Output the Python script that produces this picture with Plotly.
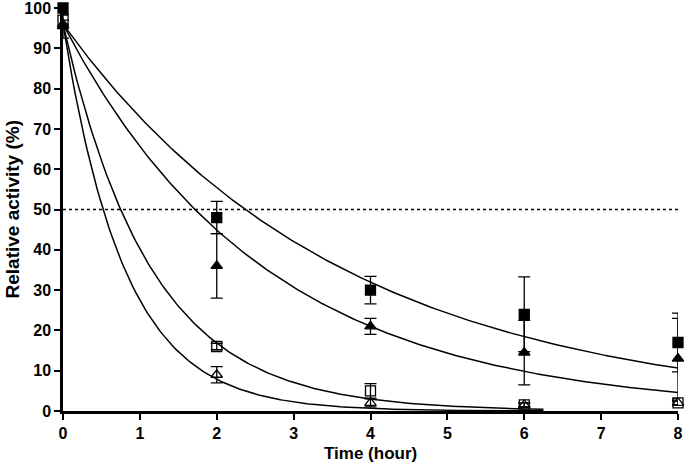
import numpy as np
import plotly.graph_objects as go

time_h = [0, 2, 4, 6, 8]

fsq_y = [100, 48, 30, 24, 17]
fsq_err = [1.5, 4, 3.4, 9.3, 7.3]
ftr_y = [95.5, 36, 21, 14.5, 13]
ftr_err = [3, 8, 2, 8, 10]
osq_y = [97, 16, 5, 1.5, 2]
osq_err = [0, 0.8, 1.8, 0.5, 0.5]
otr_y = [96, 9, 2, 1.5, 2]
otr_err = [0, 2, 1, 0.5, 0.5]

# one-phase decay fit parameters (Y0, k per hour, end of fitted line)
fit_y0 = [96, 96, 96, 96]
fit_k = [0.275, 0.38, 0.87, 1.25]
fit_end = [8, 8, 6.25, 6.25]

x_title = "Time (hour)"
y_title = "Relative activity (%)"

fig = go.Figure()

# dotted 50% line
fig.add_trace(go.Scatter(x=[0, 8], y=[50, 50], mode="lines",
                         line=dict(color="black", width=1.5, dash="dot"),
                         showlegend=False, hoverinfo="skip"))

for y0, k, xe in zip(fit_y0, fit_k, fit_end):
    xs = np.linspace(0, xe, 200)
    fig.add_trace(go.Scatter(x=xs, y=y0 * np.exp(-k * xs), mode="lines",
                             line=dict(color="black", width=1.5),
                             showlegend=False, hoverinfo="skip", cliponaxis=False))

series = [
    (fsq_y, fsq_err, "square"),
    (ftr_y, ftr_err, "triangle-up"),
    (osq_y, osq_err, "square-open"),
    (otr_y, otr_err, "triangle-up-open"),
]
for ys, es, sym in series:
    fig.add_trace(go.Scatter(
        x=time_h, y=ys, mode="markers",
        marker=dict(symbol=sym, size=10, color="black",
                    line=dict(color="black", width=1.3)),
        error_y=dict(type="data", array=es, visible=True, color="black",
                     thickness=1.3, width=6),
        showlegend=False, cliponaxis=False))

font_family = "Liberation Sans, Arial, sans-serif"
axis_font = dict(family=font_family, size=16, color="black")
common = dict(showgrid=False, zeroline=False, showline=True, linecolor="black",
              linewidth=2.5, ticks="outside", ticklen=6, tickwidth=2,
              tickcolor="black", tickfont=axis_font, automargin=False,
              ticklabeloverflow="allow")
fig.update_layout(
    width=685, height=466,
    margin=dict(l=63, r=7, t=8, b=55),
    paper_bgcolor="white", plot_bgcolor="white",
    font=dict(family=font_family, color="black"),
    xaxis=dict(range=[0, 8], tickmode="array", tickvals=list(range(0, 9)),
               ticktext=["<b>%d</b>" % v for v in range(0, 9)], **common),
    yaxis=dict(range=[0, 100], tickmode="array", tickvals=list(range(0, 101, 10)),
               ticktext=["<b>%d</b>" % v for v in range(0, 101, 10)], **common),
    annotations=[
        dict(text="<b>%s</b>" % x_title, xref="paper", yref="paper", x=0.5, y=0,
             xanchor="center", yanchor="middle", yshift=-42, showarrow=False,
             borderpad=0, font=dict(family=font_family, size=17, color="black")),
        dict(text="<b>%s</b>" % y_title, xref="paper", yref="paper", x=0, y=0.5,
             xanchor="center", yanchor="middle", xshift=-51, textangle=-90,
             showarrow=False, font=dict(family=font_family, size=19, color="black")),
    ],
)

fig.write_html("out.html", config={"displayModeBar": False},
               post_script="document.body.style.margin='0';document.body.style.padding='0';")
